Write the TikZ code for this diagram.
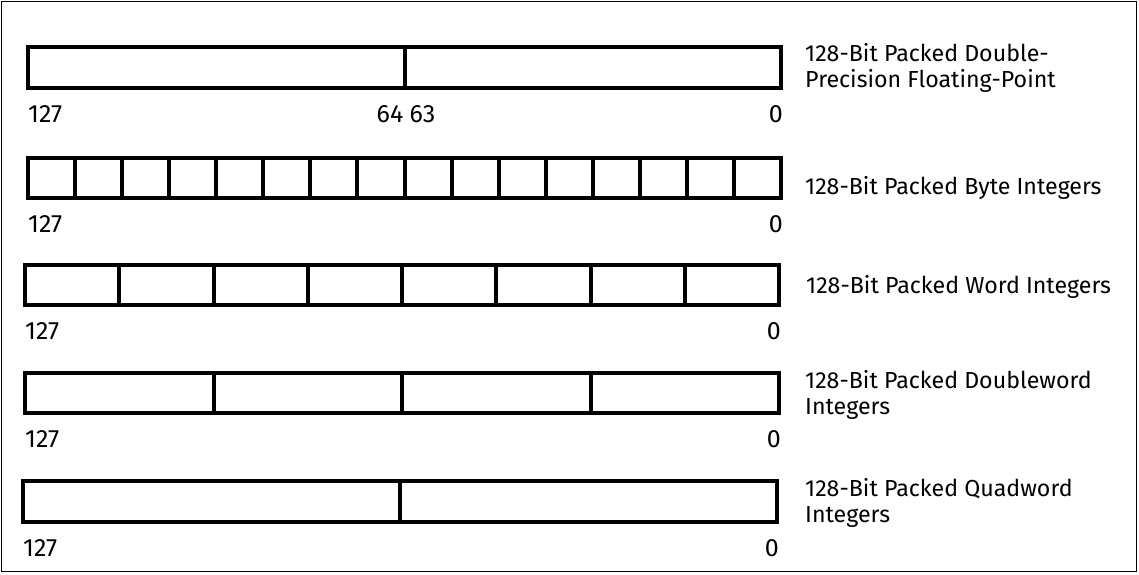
\documentclass[tikz,border=0pt]{standalone}
\usepackage{fontspec}
\setmainfont{Fira Sans}
\usetikzlibrary{calc}
\tikzset{
  reg/.style={draw, line width=4pt, inner sep=0pt, outer sep=0pt, rectangle, anchor=north west},
  divider/.style={line width=4pt},
  bitnum/.style={inner sep=0pt, font=\fontsize{25}{28}\selectfont},
  desc/.style={inner sep=0pt, anchor=base west, align=left, font=\fontsize{23.2}{25.5}\selectfont},
}
\begin{document}
\begin{tikzpicture}[x=1pt, y=-1pt]
\useasboundingbox (0,0) rectangle (1139,574);
\draw[line width=1pt] (1,1) rectangle (1136.5,571.5);

% boxes
\node[reg, minimum width=753pt, minimum height=41pt] (r1) at (28,47) {};
\node[reg, minimum width=753pt, minimum height=40pt] (r2) at (28,158) {};
\node[reg, minimum width=754pt, minimum height=40pt] (r3) at (25,265) {};
\node[reg, minimum width=754pt, minimum height=40pt] (r4) at (25,373) {};
\node[reg, minimum width=754pt, minimum height=41pt] (r5) at (23,481) {};

% dividers
\draw[divider] ($(r1.north west)!0.5!(r1.north east)$) coordinate (d1) -- ($(r1.south west)!0.5!(r1.south east)$);
\foreach \k in {1,...,15}
  \draw[divider] ($(r2.north west)!{\k/16}!(r2.north east)$) -- ($(r2.south west)!{\k/16}!(r2.south east)$);
\foreach \k in {1,...,7}
  \draw[divider] ($(r3.north west)!{\k/8}!(r3.north east)$) -- ($(r3.south west)!{\k/8}!(r3.south east)$);
\foreach \k in {1,...,3}
  \draw[divider] ($(r4.north west)!{\k/4}!(r4.north east)$) -- ($(r4.south west)!{\k/4}!(r4.south east)$);
\draw[divider] ($(r5.north west)!0.5!(r5.north east)$) -- ($(r5.south west)!0.5!(r5.south east)$);

% bit numbers
\foreach \r in {r1,r2,r3,r4,r5}{
  \node[bitnum, anchor=base west] (\r hi) at ($(\r.south west)+(0,34)$) {127};
  \node[bitnum, anchor=base east] (\r lo) at ($(\r.south east)+(2,34)$) {0};
}
\node[bitnum, anchor=base east] (n64) at ($(d1)+(-1,75)$) {64};
\node[bitnum, anchor=base west] (n63) at ($(d1)+(5,75)$) {63};

% descriptions (base anchor = baseline of last line)
\node[desc] (t1) at (805,87) {128-Bit Packed Double-\\Precision Floating-Point};
\node[desc] (t2) at (805,194) {128-Bit Packed Byte Integers};
\node[desc] (t3) at (806,293) {128-Bit Packed Word Integers};
\node[desc] (t4) at (805,414) {128-Bit Packed Doubleword\\Integers};
\node[desc] (t5) at (805,522) {128-Bit Packed Quadword\\Integers};
\end{tikzpicture}
\end{document}
